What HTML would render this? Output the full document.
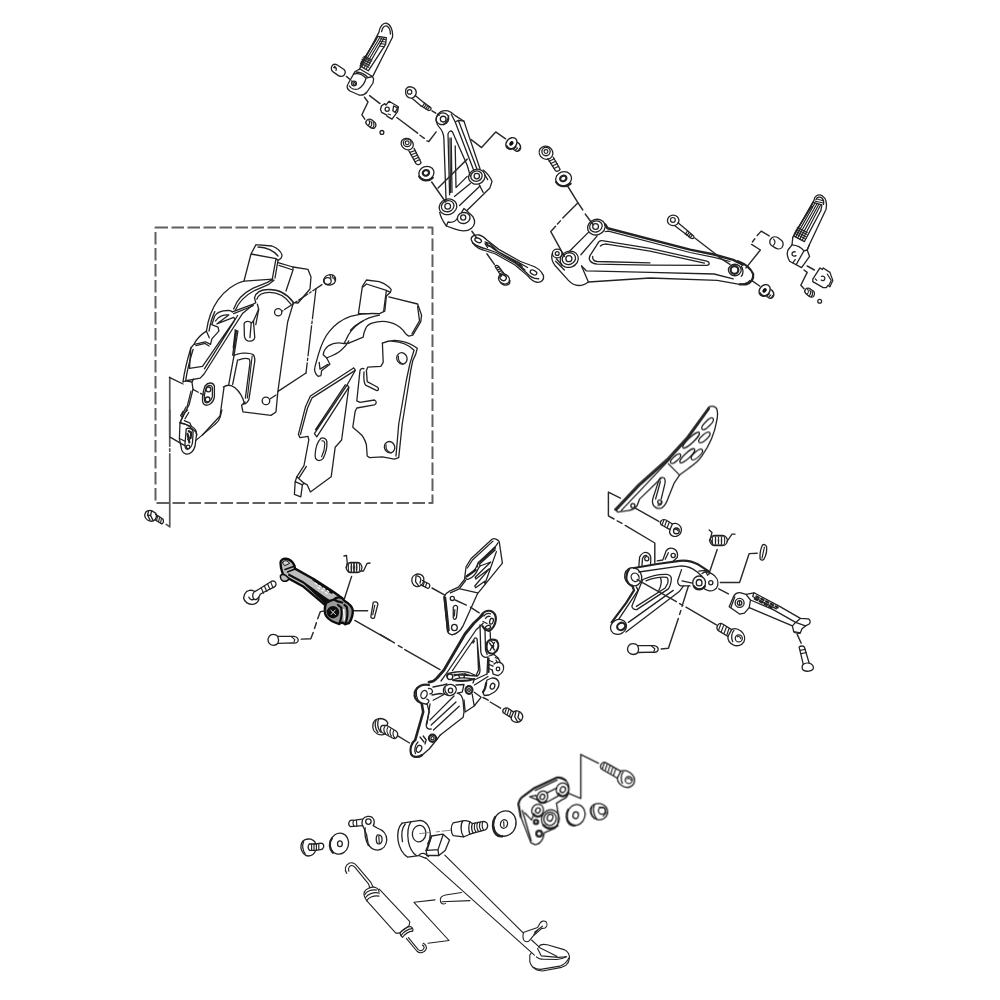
<!DOCTYPE html>
<html><head><meta charset="utf-8"><title>Parts diagram</title>
<style>
html,body{margin:0;padding:0;background:#fff;}
body{width:1000px;height:1000px;overflow:hidden;}
svg{display:block;}
.d{fill:none;stroke:#222;stroke-width:1.25;stroke-linecap:round;stroke-linejoin:round;}
.d .f{fill:#fff;}
.d .k{fill:#222;stroke:none;}
.d .t{stroke-width:0.8;}
.d .b{stroke-width:2;}
.d .g{stroke:#666;stroke-width:0.9;}
</style></head><body>
<svg width="1000" height="1000" viewBox="0 0 1000 1000">
<rect width="1000" height="1000" fill="#fff"/>
<g class="d" filter="url(#bl)">
<defs><filter id="bl" x="0" y="0" width="1000" height="1000" filterUnits="userSpaceOnUse"><feGaussianBlur stdDeviation="0.45"/></filter></defs>

<g transform="translate(330 10) scale(0.1)" stroke-width="13">
<path d="M300 590 L250 615 L180 740 C165 765 170 790 200 810 L290 850 C320 856 350 845 370 820 L430 730 L436 690 L425 665 L300 590"/>
<path d="M235 640 C280 630 330 650 360 682 L425 665 M360 682 C350 730 320 770 280 790 C250 800 210 790 195 760"/>
<path d="M260 620 C300 622 345 640 372 668"/>
<circle cx="240" cy="735" r="24"/>
<circle stroke-width="11.5" cx="243" cy="738" r="12"/>
</g>
<g transform="translate(320 10) scale(0.16)" stroke-width="8.125">
<!-- footpeg body -->
<path d="M245 372 L368 140 C372 105 395 78 415 82 C440 90 458 125 453 170 L332 410"/>
<path d="M385 135 C390 110 405 98 418 100 C432 108 440 125 440 150"/>
<!-- rubber pad -->
<path d="M362 165 L415 172 L410 215 L302 380 L250 350 Z"/>
<path stroke-width="7.1875" d="M375 170 L262 355 M388 172 L275 362 M400 176 L288 370 M350 185 L255 335"/>
<path stroke-width="7.1875" d="M258 320 L310 345 M254 332 L305 358 M262 308 L315 332 M268 298 L320 322 M275 290 L325 312"/>
<path stroke-width="7.1875" d="M380 180 L412 186 M378 195 L410 200 M376 210 L408 214 M372 225 L402 230"/>
<!-- pin -->
<path d="M78 345 C90 335 105 340 115 348 L150 372 C160 382 158 398 150 408 C140 418 125 415 115 410 L80 385 C68 375 68 355 78 345 Z"/>
<path stroke-width="7.1875" d="M90 352 C100 358 105 368 100 378 M85 360 L100 362"/>
<path stroke="#2a2a2a" stroke-width="9.0625" stroke-dasharray="28,16" d="M165 415 L200 445"/>
<!-- leader -->
<path stroke="#2a2a2a" stroke-width="9.0625" d="M278 545 L300 575 L262 655 L280 682"/>
<path stroke="#2a2a2a" stroke-width="9.0625" d="M310 535 L375 585"/>
<!-- small plate -->
<path d="M385 598 L405 585 L412 595 L432 570 L490 605 L485 635 L450 682 L420 665 L415 655 L385 640 L378 620 Z"/>
<path d="M460 600 L485 612 L470 640 L455 630 Z"/>
<circle cx="420" cy="620" r="13"/>
<path stroke-width="7.1875" d="M425 650 L440 655"/>
<!-- long leader -->
<path stroke="#2a2a2a" stroke-width="9.0625" d="M480 672 L610 770 M625 783 L652 802 M668 818 L680 822 L726 762"/>
<!-- set screw -->
<path d="M292 690 C300 678 315 680 325 688 L345 705 C352 715 348 730 340 738 C330 742 320 738 312 732 L292 715 C285 708 285 698 292 690 Z"/>
<path stroke-width="7.1875" d="M305 688 C312 700 310 715 300 722 M318 695 C326 708 324 722 314 732 M332 702 C340 715 338 728 328 738"/>
<circle cx="387" cy="765" r="12"/>
<!-- bolt 1 socket head -->
<path d="M535 505 C535 485 555 475 575 482 C595 490 605 505 600 525 C595 545 575 555 555 548 C540 540 533 525 535 505 Z"/>
<circle stroke-width="7.1875" cx="560" cy="512" r="14"/>
<path d="M595 535 L650 580 M575 552 L632 600"/>
<path d="M650 580 L692 610 C698 620 692 628 680 628 L632 600"/>
<path stroke-width="7.1875" d="M655 582 L640 602 M665 590 L650 610 M675 598 L660 618 M685 605 L670 624"/>
<path stroke="#2a2a2a" stroke-width="9.0625" stroke-dasharray="28,14" d="M700 630 L745 658"/>
<!-- bolt 2 flanged -->
<ellipse cx="545" cy="838" rx="40" ry="34" transform="rotate(35 545 838)"/>
<circle cx="545" cy="830" r="24"/>
<circle stroke-width="7.1875" cx="545" cy="830" r="12"/>
<path d="M555 880 L600 960 C610 970 625 968 632 955 L588 865"/>
<path stroke-width="7.1875" d="M562 890 L595 878 M570 905 L603 892 M578 920 L610 906 M586 934 L618 920 M594 948 L625 934"/>
</g>
<g transform="translate(400 90) scale(0.16)" stroke-width="8.125">
<!-- top boss -->
<ellipse cx="265" cy="180" rx="40" ry="36" transform="rotate(-20 265 180)"/>
<circle cx="270" cy="182" r="18"/>
<path d="M228 172 C235 140 265 125 300 130 C320 135 335 150 345 160 L400 195 L412 232 L500 492"/>
<path d="M228 172 C222 195 230 215 245 232 C262 250 272 270 274 300 L288 690"/>
<path d="M305 160 C300 185 290 205 270 218"/>
<path d="M320 150 L345 200 L460 500 M345 200 L365 190 L400 195"/>
<path d="M365 190 L480 490"/>
<!-- inner cutout -->
<path d="M300 275 C305 258 318 250 328 262 L420 470 L440 540 M300 275 L310 655 M320 300 L325 640 M345 350 L350 610 L420 540"/>
<path stroke-width="7.1875" d="M312 300 L316 640"/>
<path stroke="#2a2a2a" stroke-width="9.0625" d="M420 432 L238 612 M198 575 L285 700"/>
<!-- right boss -->
<ellipse cx="480" cy="542" rx="52" ry="46" transform="rotate(-20 480 542)"/>
<ellipse cx="478" cy="538" rx="36" ry="32" transform="rotate(-20 478 538)"/>
<circle cx="480" cy="538" r="17"/>
<path d="M520 500 C545 520 565 545 575 572 L562 612 L420 752"/>
<path d="M495 592 L520 640 M530 530 L548 560"/>
<path d="M440 585 L340 665 M500 600 L372 722"/>
<!-- lower-left boss -->
<ellipse cx="300" cy="730" rx="56" ry="48" transform="rotate(-20 300 730)"/>
<ellipse cx="298" cy="726" rx="40" ry="34" transform="rotate(-20 298 726)"/>
<circle cx="298" cy="726" r="18"/>
<!-- bottom boss -->
<path d="M248 765 C255 800 275 830 290 850 L345 870 C380 882 420 885 445 865 C470 845 470 815 455 790 L420 758 L400 740 L385 765"/>
<path d="M290 850 L300 825 C320 830 345 825 360 800"/>
<ellipse cx="398" cy="800" rx="40" ry="34" transform="rotate(-15 398 800)"/>
<circle cx="395" cy="797" r="16"/>
<!-- leader right + nut -->
<path stroke="#2a2a2a" stroke-width="9.0625" d="M445 310 L510 360 L598 262 L660 305"/>
<!-- washer -->
<ellipse cx="165" cy="520" rx="48" ry="42" transform="rotate(-20 165 520)"/>
<ellipse stroke-width="13.75" cx="162" cy="518" rx="20" ry="17" transform="rotate(-20 162 518)"/>
<path stroke-width="13.75" d="M120 540 C135 568 178 575 205 548"/>
</g>
<g transform="translate(440 200) scale(0.125)" stroke-width="10.4">
<path stroke="#2a2a2a" stroke-width="11.6" d="M255 250 L292 302"/>
<path d="M250 318 C245 295 275 272 315 280 C335 285 355 300 375 320 L470 395 L640 490 L720 520 C770 535 810 565 828 605 C835 640 810 662 775 658 C750 655 725 635 700 605 L600 520 L440 430 L345 400 C300 390 258 350 250 318 Z"/>
<ellipse cx="305" cy="322" rx="28" ry="16" transform="rotate(25 305 322)"/>
<ellipse cx="748" cy="580" rx="28" ry="17" transform="rotate(25 748 580)"/>
<path d="M262 345 C300 375 340 385 380 395 L450 420 L610 510 L690 580 C715 610 750 632 790 630"/>
<path d="M360 335 L400 350 L460 410 L630 500 L700 540 M360 350 L380 380 M395 365 L440 400 L600 495 L680 560"/>
<path stroke-width="9.2" d="M365 345 L385 370 M375 345 L395 372 M620 500 L650 515 M630 515 L660 530"/>
<path stroke="#2a2a2a" stroke-width="11.6" d="M375 430 L435 515"/>
<!-- bolt -->
<path d="M440 530 C445 520 460 520 465 528 L520 600 M440 530 L490 610"/>
<path stroke-width="9.2" d="M448 545 L472 535 M458 560 L482 550 M468 575 L492 565 M478 590 L502 580"/>
<ellipse cx="512" cy="632" rx="46" ry="38" transform="rotate(30 512 632)"/>
<ellipse cx="505" cy="622" rx="26" ry="22" transform="rotate(30 505 622)"/>
<path d="M480 655 C490 680 530 692 555 670 L560 645"/>
</g>
<g transform="translate(530 130) scale(0.16)" stroke-width="8.125">
<!-- bolt -->
<ellipse cx="100" cy="142" rx="44" ry="40" transform="rotate(30 100 142)"/>
<circle cx="100" cy="135" r="26"/>
<circle stroke-width="7.1875" cx="100" cy="135" r="12"/>
<path d="M112 180 L160 255 C170 262 185 255 188 245 L145 170"/>
<path stroke-width="7.1875" d="M120 195 L152 180 M130 210 L162 195 M140 225 L172 210 M150 240 L180 226"/>
<!-- washer -->
<ellipse cx="210" cy="305" rx="50" ry="44" transform="rotate(-20 210 305)"/>
<ellipse stroke-width="13.75" cx="208" cy="303" rx="20" ry="17" transform="rotate(-20 208 303)"/>
<path stroke-width="13.75" d="M163 325 C180 355 228 360 254 335"/>
<!-- leaders -->
<path stroke="#2a2a2a" stroke-width="9.0625" d="M235 350 L300 455 L330 500 M345 525 L395 592"/>
<path stroke="#2a2a2a" stroke-width="9.0625" d="M300 455 L205 550 M190 568 L172 588 M160 602 L130 635 L215 790"/>
<!-- upper boss -->
<ellipse cx="415" cy="607" rx="56" ry="48" transform="rotate(-20 415 607)"/>
<ellipse cx="412" cy="603" rx="40" ry="34" transform="rotate(-20 412 603)"/>
<circle cx="410" cy="603" r="18"/>
<!-- lower boss -->
<ellipse cx="245" cy="808" rx="58" ry="50" transform="rotate(-20 245 808)"/>
<ellipse cx="243" cy="804" rx="42" ry="36" transform="rotate(-20 243 804)"/>
<circle cx="243" cy="804" r="19"/>
<ellipse cx="170" cy="772" rx="30" ry="27"/>
<circle cx="170" cy="772" r="12"/>
<path d="M365 640 L250 755 M420 662 L318 780"/>
<!-- outline -->
<path d="M138 775 C132 800 140 825 155 845 L240 940 C260 962 285 972 305 972 C330 972 350 962 365 950 L322 850"/>
<path d="M160 820 L215 875 M165 805 L200 845"/>
<path stroke-width="15" d="M470 590 L485 614 L1000 748 L1150 778 L1270 812 L1330 842"/>
<path stroke-width="7.1875" d="M468 636 L490 632 L1000 766 L1150 796 L1250 822"/>
<!-- cutout -->
<path d="M450 692 L750 740 L1105 820 C1125 825 1125 846 1105 846 L750 845 L420 838 C380 835 362 812 375 785 L422 712 C428 698 438 690 450 692 Z"/>
<path d="M470 712 L750 757 L1090 832 M440 725 C450 715 465 712 478 714 M392 790 C388 805 398 820 420 822 L750 830"/>
<!-- lower lines -->
<path d="M322 850 L352 880 L750 890 L1150 900 L1270 930"/>
<path d="M365 950 L750 925 L1170 940 L1310 965 C1340 965 1360 955 1375 940"/>
<!-- end boss -->
<ellipse cx="1280" cy="875" rx="40" ry="36"/>
<circle cx="1278" cy="875" r="24" stroke-width="13.75"/>
<path stroke-width="13.75" d="M1300 820 C1340 835 1380 865 1395 900 C1398 930 1380 955 1350 965 L1310 965"/>
<path d="M1320 850 C1335 870 1335 900 1320 915"/>
<!-- socket bolt -->
<ellipse cx="895" cy="565" rx="36" ry="33"/>
<circle stroke-width="7.1875" cx="893" cy="562" r="15"/>
<path d="M925 580 L985 630 L1022 662 C1030 672 1022 680 1010 678 L905 598"/>
<path stroke-width="7.1875" d="M985 630 L970 652 M995 640 L980 660 M1005 648 L990 668 M1015 656 L1000 675"/>
<path stroke="#2a2a2a" stroke-width="9.0625" d="M1030 675 L1160 775 M1180 795 L1250 840"/>
<!-- leader to pin -->
<path stroke="#2a2a2a" stroke-width="9.0625" d="M1350 862 L1440 750 L1385 715 M1390 700 L1405 680 M1420 660 L1445 632 L1495 662"/>
<!-- nut -->
<path stroke="#2a2a2a" stroke-width="9.0625" d="M1385 940 L1435 975"/>
</g>
<g transform="translate(740 170) scale(0.16)" stroke-width="8.125">
<path d="M330 420 L462 190 C465 160 490 148 515 162 C535 175 545 205 538 245 L432 470 L420 500"/>
<path d="M475 185 C480 168 498 165 512 175 C522 185 525 200 522 215"/>
<path d="M458 202 L512 218 L505 255 L402 448 L335 412 Z"/>
<path stroke-width="7.1875" d="M468 208 L348 418 M480 212 L360 425 M492 216 L374 432 M502 222 L388 440 M450 225 L340 400"/>
<path stroke-width="7.1875" d="M340 395 L405 428 M346 382 L410 415 M352 370 L416 402 M358 358 L420 390"/>
<path stroke-width="7.1875" d="M470 195 L515 205 M478 180 L518 192"/>
<!-- base -->
<path d="M330 420 L325 468 L300 500 C292 520 295 545 310 570 L385 610 L435 540 L420 500 L432 470"/>
<path d="M325 468 C350 470 380 480 400 505 L420 500 M400 505 L352 590 M330 580 L345 560"/>
<path d="M345 512 C335 508 325 515 325 525 C325 538 340 542 350 535"/>
<!-- pin -->
<path d="M195 428 C205 415 225 415 240 425 L262 442 C272 452 272 472 262 485 C252 495 232 495 218 485 L195 470 C183 460 183 440 195 428 Z"/>
<path stroke-width="7.1875" d="M210 432 C220 442 220 458 210 470"/>
<!-- leaders -->
<path stroke="#2a2a2a" stroke-width="9.0625" d="M420 600 L465 625"/>
<path stroke="#2a2a2a" stroke-width="9.0625" d="M400 625 L420 640 L380 720 L400 742"/>
<!-- plate -->
<path d="M455 682 L500 612 L515 622 L520 612 L562 640 L580 690 L562 730 L548 722 L540 735 L520 735 L455 698 Z"/>
<path d="M510 665 C520 660 532 668 530 680 C528 692 515 695 508 688"/>
<path stroke-width="7.1875" d="M545 650 L570 690 L555 722 M470 680 L480 690"/>
<!-- set screw -->
<path d="M410 745 C418 735 432 737 442 745 L462 760 C468 770 465 785 457 792 C447 797 437 793 429 787 L410 770 C403 763 403 753 410 745 Z"/>
<path stroke-width="7.1875" d="M422 743 C430 755 428 770 418 777 M436 750 C444 763 442 777 432 787 M450 758 C456 770 454 783 446 792"/>
<circle cx="498" cy="820" r="12"/>
</g>
<g transform="translate(0 0) scale(1)" stroke-width="1.3">
<rect x="155.5" y="227.5" width="277" height="275.5" stroke="#606060" stroke-width="2" stroke-linecap="butt" stroke-dasharray="12.5,3.5"/>
</g>
<g transform="translate(150 235) scale(0.2)" stroke-width="6.5">
<!-- tube -->
<path d="M530 48 L610 55 C635 65 655 85 660 100 C660 112 650 122 640 127 L630 118 L505 95 L530 48 M505 95 L470 230 M630 118 L610 228 M640 127 L625 215"/>
<path d="M540 60 C580 62 620 80 640 105"/>
<!-- back plate -->
<path d="M640 138 L715 160 L790 172 L805 210 L800 270 L740 340 L715 338"/>
<path d="M645 152 L715 175 L680 280 M715 160 L715 175"/>
<path stroke-dasharray="150,12,12,12" d="M830 270 L800 520 L780 690"/>
<path d="M780 690 L640 782"/>
<!-- lower-left -->
<path stroke="#555" stroke-width="8.5" d="M98.75 712 L98.75 1000"/>
<path d="M97 712 L165 745 M210 737 L215 772 L195 850 L165 905"/>
<path d="M370 762 L350 905 L262 1000"/>
<path stroke-dasharray="30,12" d="M215 772 L268 800"/>
<path d="M275 755 C290 735 315 735 322 755 L322 810 C315 845 285 860 268 845 C258 830 262 790 275 755 Z"/>
<path d="M282 762 C292 748 308 748 312 762 L312 808 C305 835 285 845 275 835 C270 822 272 790 282 762 Z"/>
<circle cx="292" cy="772" r="12"/>
<circle cx="288" cy="822" r="12"/>
<path d="M165 905 L150 940 L175 945 L200 960 L230 985 L235 1000 M180 860 L160 900"/>
<path stroke-width="5.75" d="M205 780 L185 860"/>
<!-- collar -->
<path d="M872 215 C880 200 900 195 915 200 C930 208 932 225 922 240 C910 252 890 255 878 245 C868 238 866 225 872 215 Z"/>
<ellipse cx="888" cy="230" rx="18" ry="17"/>
<path stroke-width="5.75" d="M900 200 L905 215 M912 202 L916 218 M922 210 L924 226"/>
<path stroke-dasharray="55,10,10,10" d="M860 248 L662 380"/>
<path stroke-dasharray="40,10" d="M630 800 L600 820"/>
</g>
<g transform="translate(170 270) scale(0.13)" stroke-width="9.99999">
<!-- arch outer -->
<path d="M100 860 C108 800 130 700 160 600 L185 570 C200 540 230 500 280 470 C290 400 320 300 370 230 C420 160 500 100 570 85 L790 70"/>
<path d="M120 855 C128 800 150 700 178 610 M300 470 C310 410 330 350 345 320"/>
<!-- inner arch band -->
<path d="M490 300 C510 240 560 180 640 140 L750 95 L790 70 M502 312 C525 255 570 200 650 158 L760 110 L800 78"/>
<!-- front plate top (double) -->
<path d="M650 215 C660 170 700 150 760 150 C830 150 900 180 950 250"/>
<path d="M668 225 C680 190 710 172 765 172 C825 172 885 200 930 262"/>
<path d="M650 215 L660 252 L640 262 L480 322 M490 335 L640 275"/>
<!-- steps -->
<path d="M340 360 C360 320 420 310 462 312 L480 322 M350 392 C370 352 420 342 452 346 L360 415 L490 365 L500 380"/>
<path d="M320 420 L370 440 L376 470 L322 530 L312 572 L272 552 L188 572 M280 470 L302 522 M322 420 L340 365"/>
<path d="M200 582 L270 565 L300 585"/>
<!-- long diagonal bands -->
<path d="M640 268 L560 332 L482 452 L262 800 L232 832 L122 852"/>
<path d="M500 380 L250 742 L150 757 M160 600 L150 757 M520 350 L490 400 L265 760"/>
<!-- front plate left -->
<path d="M672 262 L682 302 L642 392 L652 520 C645 545 620 550 598 545 C580 538 572 520 572 500 L570 412 C578 395 598 392 612 398 L628 408 L640 392"/>
<path d="M625 405 L615 520 M682 302 L660 420"/>
<path d="M950 250 L905 400 L862 700 L830 934 L815 1092 L777 1118 L561 1091 L551 1041 L577 1015"/>
<circle cx="832" cy="325" r="28"/>
<circle cx="738" cy="1007" r="29"/>
<!-- left edge lower -->
<path d="M500 460 L522 470 L492 660 L452 880 M510 468 L482 655"/>
<path stroke-width="16.9231" d="M505 470 L490 600"/>
<!-- slot 2 -->
<path d="M492 660 C520 640 600 630 640 650 C656 670 656 700 646 740 L608 992 C600 1015 585 1028 566 1031"/>
<path d="M530 692 C555 680 590 678 610 685 C618 700 616 720 612 740 L580 985 M520 692 L482 880"/>
<path stroke-width="8.84614" d="M632 660 L595 985"/>
<!-- arc at bottom -->
<path d="M410 900 C440 880 470 882 500 905 C535 935 560 975 572 1026"/>
<!-- bottom left -->
<path d="M100 860 L122 852 L170 862 L180 840"/>
</g>
<g transform="translate(280 260) scale(0.16)" stroke-width="8.125">
<!-- tube -->
<path d="M540 125 L620 135 C650 145 680 165 695 185 L690 202 L665 225 L655 320 L622 335 L490 335 L515 165 Z"/>
<path d="M540 150 L665 190 L690 202 M665 190 L648 318 M520 168 L540 150"/>
<!-- back plate -->
<path d="M680 230 L860 275 L885 345 L880 385 L830 470 L805 476 C790 470 780 455 770 440 C730 390 650 370 575 395 C555 402 540 412 535 430 L525 455 L520 482 L430 520"/>
<path d="M860 290 L872 380 L825 462"/>
<!-- arch -->
<path d="M620 335 C560 330 500 335 440 352 C390 370 345 400 310 445 C280 480 255 540 240 590 L218 670 C212 690 222 715 238 727 L256 722 L260 692 L312 652 L292 612"/>
<path d="M622 345 C580 352 540 365 500 392 C460 420 430 455 412 500 L400 522 C370 515 330 518 305 535 C285 550 272 570 270 592 L292 612 C320 600 350 590 380 565 C400 548 420 530 430 505"/>
<path d="M400 522 L430 520 M245 640 L250 682 L300 652 M440 440 C460 415 490 395 520 380"/>
<!-- front plate -->
<path d="M640 520 C700 490 790 500 858 552 L848 590 L830 628 C820 670 812 720 808 750 L764 1025 L742 1235 L715 1245 L640 1230 L560 1235 L545 1225 L540 1155 C530 1120 515 1095 500 1085 L455 1045 L470 945 L480 925 L590 905 C605 900 605 882 590 875 L500 890 L480 880 L500 690 C505 680 515 675 525 680"/>
<path d="M640 520 L645 640 L630 665 L548 670 L540 690 L545 760 L610 795 C620 805 615 820 602 815 L535 782 C525 770 522 740 525 700"/>
<path d="M700 507 C760 512 808 532 838 564 L812 648 L790 750 L742 1025 L725 1225"/>
<ellipse cx="762" cy="615" rx="32" ry="36" transform="rotate(-20 762 615)"/>
<path stroke-width="7.1875" d="M740 600 C738 625 750 645 770 650"/>
<ellipse cx="685" cy="1170" rx="32" ry="36" transform="rotate(-20 685 1170)"/>
<path stroke-width="7.1875" d="M663 1155 C660 1180 672 1200 695 1205"/>
<!-- lower triangular plate -->
<path d="M460 675 L190 850 L160 915 L115 1090 L125 1110 L175 1103 L180 1125 L150 1285 L105 1355 L95 1385 L90 1465 L130 1480 L140 1405 L150 1395 L170 1405 L190 1450 L320 1355 L345 1170 L385 1125 L430 795 L420 780"/>
<path d="M470 690 L200 862 L172 925 L128 1090 M95 1385 L140 1405 M105 1355 L150 1395 M165 1290 L120 1360"/>
<path d="M460 675 C470 680 472 690 465 700 L420 780 L215 1085 L230 1105 L430 795 M408 780 L222 1060"/>
<path d="M255 1115 C270 1108 290 1115 293 1135 C295 1165 285 1210 270 1240 C255 1258 232 1258 222 1240 C215 1215 225 1160 240 1135 Z"/>
<path stroke-width="7.1875" d="M262 1130 C272 1128 280 1135 280 1150 C280 1175 270 1210 260 1230"/>
</g>
<g transform="translate(130 410) scale(0.125)" stroke-width="10.4">
<path stroke="#555" stroke-width="13.6" d="M318 0 L318 290 M318 310 L318 330 M318 350 L318 935 L290 915"/>
<path d="M318 215 L420 275"/>
<path d="M735 0 L722 55 C715 80 700 100 680 115 L525 245"/>
<!-- clip -->
<path d="M400 100 L490 130 C520 145 535 165 532 200 L520 290 C510 330 480 355 450 352 C425 348 412 325 410 300 L395 230 Z"/>
<path d="M400 100 L420 60 L440 20 L460 0 M420 60 L405 45 L425 10 M440 70 L470 20 M435 85 L480 105 L490 130"/>
<path d="M450 150 C470 140 500 150 505 175 L500 260 C495 290 480 310 460 315 C445 312 438 295 440 270 Z"/>
<path stroke-width="17.6" d="M470 170 L490 180 L485 225 L465 235 M460 190 L475 260"/>
<circle cx="465" cy="295" r="14"/>
<path d="M420 275 L440 285 M400 230 L440 250"/>
<!-- bolt -->
<path d="M120 830 C125 810 150 798 172 805 L205 825 C215 840 212 862 200 878 C185 892 160 892 140 880 C122 868 115 848 120 830 Z"/>
<path d="M150 805 L140 840 L160 880 M172 808 L165 845 L185 885 M140 840 L165 845"/>
<path d="M205 835 L262 872 C272 885 268 905 255 912 L200 878"/>
<path stroke-width="9.2" d="M222 845 L212 885 M238 855 L228 895 M252 866 L244 905"/>
</g>
<g transform="translate(270 545) scale(0.1)" stroke-width="13">
<g stroke="#111" stroke-width="24">
<path fill="#bdbdbd" d="M105 180 C105 150 130 135 160 137 C195 142 230 170 245 208 L250 236 L440 342 L640 472 L722 532 L600 560 L552 602 L328 412 L172 328 L128 290 C115 255 105 215 105 180 Z"/>
<path fill="#d8d8d8" stroke-width="10" d="M128 172 C135 155 160 152 180 165 L195 185 L150 205 C135 198 125 188 128 172 Z"/>
<path fill="none" stroke-width="16" d="M150 245 L235 215 M175 270 L250 240"/>
<path fill="#bdbdbd" stroke-width="16" d="M105 305 C120 290 150 295 175 320 L190 338 C180 355 160 365 135 362 C115 355 100 330 105 305 Z"/>
<path fill="#111" stroke="none" d="M180 305 L335 388 L552 590 L600 550 L560 525 L330 360 L185 282 Z"/>
<path fill="#111" stroke="none" d="M420 350 L440 335 L640 465 L620 490 L600 480 Z"/>
<path fill="#999" d="M560 580 C548 610 545 650 552 690 C565 730 600 755 650 775 L690 790 L722 775 L752 792 L790 780 C815 745 830 700 828 650 C820 615 790 585 750 562 L722 532 C695 520 660 525 640 545 L600 560 Z"/>
<path fill="none" stroke-width="22" d="M690 790 C715 740 722 680 712 625 L680 600 M752 792 C775 740 780 680 768 620 L745 600 M640 545 C660 560 690 570 722 575"/>
<path fill="#fff" stroke="none" d="M728 640 L745 640 L750 750 L738 760 Z"/>
<circle fill="#111" cx="630" cy="672" r="50"/>
</g>
<path stroke="#eee" stroke-width="9" d="M608 652 L655 695 M652 650 L612 695"/>
<path stroke="#fff" stroke-width="11" d="M452 382 L470 392 M492 405 L510 416 M532 430 L550 442 M572 455 L588 466 M478 425 L494 435 M518 450 L534 460 M556 475 L572 485"/>
</g>
<g transform="translate(230 530) scale(0.16)" stroke-width="8.125">
<path stroke="#2a2a2a" stroke-width="9.0625" d="M760 290 L715 430"/>
<!-- cotter -->
<path d="M895 452 C905 445 920 450 925 462 L902 550 C895 555 885 552 880 545 Z"/>
<path stroke-width="7.1875" d="M905 470 L892 530"/>
<path stroke="#2a2a2a" stroke-width="9.0625" d="M775 505 L860 505 M780 565 L1000 690"/>
<!-- bolt left -->
<path d="M92 400 C105 375 135 370 155 385 L180 370 L260 320 C275 315 288 325 288 340 C285 352 275 360 265 362 L190 400 L180 420 C185 440 170 460 145 465 C115 468 90 450 85 425 Z"/>
<path d="M150 388 C140 400 138 420 150 432 C160 438 172 432 180 420 M118 420 C125 435 140 440 150 432"/>
<path stroke-width="7.1875" d="M195 362 L210 395 M215 350 L230 384 M235 338 L250 372 M255 326 L268 360"/>
<!-- pin -->
<path d="M245 665 C255 648 285 648 298 665 L400 665 C420 668 430 680 425 695 C420 705 408 708 395 706 L300 708 C285 725 255 725 245 708 C236 695 236 678 245 665 Z"/>
<path d="M298 665 C305 680 305 695 300 708"/>
<path stroke-width="7.1875" d="M385 668 L405 685 L400 700"/>
<path stroke="#2a2a2a" stroke-width="9.0625" d="M445 682 L505 680 L520 640 M528 615 L540 580 M548 555 L565 510 L600 505"/>
</g>
<g transform="translate(380 520) scale(0.16)" stroke-width="8.125">
<path d="M700 120 C715 112 735 120 745 135 L765 270 L610 460 L520 660 C505 690 480 712 450 718 C435 715 425 708 422 695 L400 480 C410 462 420 452 435 445 L490 420 L528 372 L538 292 L570 240 Z"/>
<path d="M546 300 L578 250 L706 132 M410 484 L432 690 M440 456 L495 430 L535 378"/>
<path stroke-width="13.75" d="M403 482 L425 694"/>

<path d="M500 430 L610 456"/>
<!-- holes -->
<circle cx="452" cy="490" r="13"/>
<path d="M458 545 C465 530 480 530 485 545 L478 610 C472 625 462 625 458 612 Z"/>
<path stroke-width="7.1875" d="M468 560 L465 600"/>
<ellipse cx="465" cy="672" rx="18" ry="20"/>
<!-- bolt -->
<path d="M200 365 C205 345 230 332 252 340 C270 348 278 365 272 385 C268 405 245 420 225 415 C205 408 195 385 200 365 Z"/>
<path d="M225 350 C240 348 255 358 255 372 L250 395 M225 350 L222 385 L240 410"/>
<path d="M265 378 L308 400 C315 410 310 425 300 428 L255 405"/>
<path stroke-width="7.1875" d="M278 385 L270 412 M292 392 L284 420"/>
<path stroke="#2a2a2a" stroke-width="9.0625" d="M325 425 L405 470 M470 500 L540 532 M565 545 L620 580"/>
<path stroke="#2a2a2a" stroke-width="9.0625" d="M0 715 L90 768 M115 785 L138 798 M155 810 L375 935"/>
</g>
<g transform="translate(440 530) scale(0.08)" stroke-width="16.25">
<path d="M725 160 C700 210 620 290 500 390 L470 430 C450 480 400 540 340 570 C310 590 320 622 350 616 C400 600 450 550 480 480 L500 450"/>
<path stroke-width="30" d="M505 392 L685 222 M340 575 L445 500"/>
<path d="M690 250 L495 425 L500 450 L635 400 L440 590 L448 612 L615 485 L435 700 L445 722 L560 640 L562 672 L705 270"/>
<path d="M480 400 C470 420 465 440 470 460"/>
</g>
<g transform="translate(440 600) scale(0.1)" stroke-width="13">
<!-- dash from heel guard -->
<!-- thick upper arm edge -->
<path stroke-width="28" d="M425 150 L340 230 L250 340 L40 700 L-30 780 C-50 805 -80 818 -110 822"/>
<path d="M432 232 L360 300 L60 740 L10 810"/>
<!-- top boss -->
<path stroke-width="22" d="M405 165 C420 125 465 100 510 110 C545 125 562 160 558 200 C552 250 525 290 490 310 L450 295 L425 262"/>
<path d="M440 160 C455 135 485 128 505 138 M455 185 C465 165 485 160 500 165 M430 215 L470 235"/>
<ellipse cx="515" cy="212" rx="18" ry="30" transform="rotate(15 515 212)"/>
<ellipse cx="480" cy="272" rx="26" ry="17" transform="rotate(-20 480 272)"/>
<!-- right arm -->
<path d="M400 250 L408 520 C412 555 440 578 470 572 M450 300 L455 500 L472 545 M502 318 L505 400"/>
<!-- inner cutout -->
<path d="M345 385 C352 375 365 375 370 388 L400 700 C400 730 390 750 372 760 L140 745 M345 385 L125 705 M372 400 L385 700 L365 745 M330 430 L345 410"/>
<!-- boss 2 -->
<path stroke-width="22" d="M470 430 C482 395 530 385 568 408 C590 438 585 482 565 510 L530 540 L492 530 C468 510 460 470 470 430 Z"/>
<path d="M495 430 L545 500 M545 425 L500 505 M510 410 C530 420 540 445 535 470"/>
<path d="M490 560 L540 545 L582 580 L602 622 M480 600 L530 620 M480 640 L530 662 M480 680 L522 700 M478 570 L470 740"/>
<path stroke-width="22" d="M485 585 L485 720"/>
<!-- boss 3 -->
<path d="M540 640 C570 610 620 618 635 660 C642 700 620 740 580 756 L532 742 L522 700"/>
<circle cx="580" cy="690" r="18"/>
<path stroke-width="11.5" d="M560 600 L575 630 M552 575 L585 590"/>
<!-- boss 4 -->
<path d="M470 800 L520 780 C550 778 580 795 590 830 C592 865 575 895 545 920 L490 950 L445 955 C428 940 430 915 450 885 L462 830 Z"/>
<ellipse cx="525" cy="862" rx="22" ry="30" transform="rotate(20 525 862)"/>
<path stroke-width="22" d="M462 830 L450 885 L430 920"/>
<path d="M470 740 L340 800 L330 830 M480 765 L345 850"/>
<!-- pedal pivot -->
<path d="M70 770 C60 750 75 730 100 730 L160 720 C200 715 250 715 290 725 L370 760"/>
<circle cx="100" cy="768" r="28"/>
<path d="M140 760 C180 740 240 735 290 750 M150 790 C200 775 260 775 320 790 M180 745 L200 780 M250 735 L240 775"/>
<path stroke-width="22" d="M130 800 C200 815 280 810 340 790"/>
</g>
<g transform="translate(400 660) scale(0.1)" stroke-width="13">
<!-- left boss -->
<path stroke-width="22" d="M290 250 C230 235 170 262 148 320 C138 370 160 410 210 430"/>
<path d="M170 280 C155 320 160 380 195 420 M210 430 L262 442"/>
<ellipse cx="240" cy="345" rx="30" ry="42" transform="rotate(20 240 345)"/>
<path d="M285 285 C305 280 322 295 325 315 C325 330 312 340 298 338 M268 392 C285 395 295 410 285 425 L262 442"/>
<path d="M330 270 L430 250 L470 240 M320 350 L400 335 L440 342"/>
<!-- mid boss -->
<ellipse cx="498" cy="300" rx="66" ry="55" transform="rotate(-15 498 300)"/>
<ellipse cx="505" cy="305" rx="22" ry="24"/>
<path stroke-width="11.5" d="M450 270 C445 300 455 330 480 345"/>
<!-- center block -->
<path d="M560 250 L640 245 L622 322 L572 332 M572 332 C600 335 625 360 632 420 L640 520 L632 572 L400 752"/>
<path d="M640 400 L652 520 L742 460 L722 342 M742 322 L812 372 L742 460"/>
<!-- right small boss -->
<ellipse stroke-width="22" cx="690" cy="300" rx="34" ry="38"/>
<circle cx="690" cy="300" r="14"/>
<!-- lower arm -->
<path stroke-width="26" d="M218 440 L232 520 L152 800"/>
<path d="M272 442 L292 520 L262 645 C262 670 272 688 292 692 L312 690"/>
<path d="M312 650 L560 420 M335 700 L592 462 M332 402 L440 345 M300 440 L270 640 M540 360 C520 380 400 500 300 600"/>
<!-- bottom boss -->
<path stroke-width="22" d="M152 800 C112 830 95 890 110 940 C130 975 180 980 222 950"/>
<path d="M222 950 L292 890 L372 790 M180 820 C150 850 140 900 155 935"/>
<ellipse cx="190" cy="888" rx="25" ry="36" transform="rotate(25 190 888)"/>
<circle stroke-width="22" cx="325" cy="782" r="36"/>
<circle cx="325" cy="782" r="16"/>
<path d="M232 760 L262 800 L250 840 M200 770 L240 820"/>
<path d="M372 790 L402 752"/>
<!-- leaders -->
<path stroke="#2a2a2a" stroke-width="14.5" d="M830 375 L882 402 M902 420 L1005 482"/>
</g>
<g transform="translate(380 600) scale(0.16)" stroke-width="8.125">
<path d="M775 680 C785 672 800 675 808 682 L835 700 L820 735 L770 705 C765 695 768 686 775 680 Z"/>
<path stroke-width="7.1875" d="M790 678 L780 708 M805 685 L795 716 M820 692 L810 725"/>
<path d="M835 700 C845 690 865 692 878 702 C892 715 895 735 885 750 C872 765 850 768 832 758 C822 750 818 742 820 735"/>
<path d="M850 695 L842 730 L860 762 M870 700 L862 735 L880 755"/>
</g>
<g transform="translate(340 680) scale(0.1)" stroke-width="13">
<path d="M330 440 C335 410 365 385 405 385 C440 388 468 405 478 430 L470 455 L560 510 C578 525 580 550 570 570 C558 585 540 588 525 580 L450 540 C430 550 400 550 375 540 C340 520 322 480 330 440 Z"/>
<path d="M362 400 C345 430 350 490 380 525 M385 395 C370 425 375 485 405 520"/>
<path d="M420 455 C400 470 400 505 420 525 L450 540 M420 455 L470 455"/>
<path stroke-width="11.5" d="M448 465 C435 485 438 515 455 535 M478 475 C465 495 468 528 485 548 M508 490 C495 510 498 545 515 562 M538 505 C525 525 528 558 545 575"/>
<path stroke="#2a2a2a" stroke-width="14.5" d="M582 562 L695 630"/>
</g>
<g transform="translate(590 395) scale(0.16)" stroke-width="8.125">
<path d="M155 715 L300 560 L480 400 L600 270 L740 78 C755 65 780 68 792 85 C800 110 798 140 790 170 C780 230 755 300 700 380 C680 410 650 435 620 455 L560 500 L525 552 L490 640 C480 670 465 695 450 705 C435 712 415 710 400 695 C388 680 388 660 395 640 L432 528 C438 515 455 512 465 520 C472 530 470 545 468 555 L445 650"/>
<path d="M445 520 L310 650 L295 690 C280 710 260 720 240 722 L175 732 L155 715"/>
<path stroke-width="13.75" d="M165 716 L308 565 L485 408 L605 278 L744 84"/>
<path d="M195 722 L330 580 L500 400"/>
<path d="M490 430 L560 500"/>
<path d="M410 650 L440 540 M425 690 C440 690 450 680 450 665"/>
<circle cx="435" cy="668" r="12"/>
<circle cx="268" cy="692" r="13"/>
<!-- ovals -->
<ellipse cx="735" cy="180" rx="48" ry="17" transform="rotate(-45 735 180)"/>
<ellipse cx="715" cy="265" rx="45" ry="17" transform="rotate(-42 715 265)"/>
<ellipse cx="632" cy="282" rx="70" ry="17" transform="rotate(-43 632 282)"/>
<ellipse cx="668" cy="372" rx="45" ry="17" transform="rotate(-42 668 372)"/>
<ellipse cx="608" cy="380" rx="62" ry="17" transform="rotate(-43 608 380)"/>
<ellipse cx="535" cy="398" rx="40" ry="15" transform="rotate(-42 535 398)"/>
<!-- leader -->
<path stroke="#2a2a2a" stroke-width="9.0625" d="M190 645 L115 607 L115 755 L150 775 M170 787 L200 802 M220 815 L405 925 L405 1050"/>
<path stroke="#2a2a2a" stroke-width="9.0625" d="M280 705 L430 790"/>
</g>
<g transform="translate(590 520) scale(0.16)" stroke-width="8.125">
<!-- bolt top -->
<path d="M445 5 C452 -5 468 -5 478 2 L515 25 L500 60 L445 30 C438 22 438 12 445 5 Z"/>
<path stroke-width="7.1875" d="M462 0 L450 32 M478 8 L466 40 M495 15 L482 50"/>
<path d="M515 25 C525 18 545 20 558 32 C572 45 575 65 565 85 C552 102 530 108 512 98 C500 90 495 75 500 60"/>
<circle cx="540" cy="68" r="18"/>
<path stroke-width="7.1875" d="M530 60 C535 55 548 58 550 68"/>
<path stroke="#2a2a2a" stroke-width="9.0625" d="M795 185 L742 340"/>
<!-- bracket -->
<ellipse cx="270" cy="355" rx="52" ry="58" transform="rotate(-30 270 355)"/>
<ellipse cx="282" cy="358" rx="24" ry="27" transform="rotate(-30 282 358)"/>
<path stroke-width="13.75" d="M245 305 C235 320 225 345 228 370 C235 395 250 408 265 412"/>
<path stroke-width="13.75" d="M275 300 L420 275 L560 255 C600 250 640 258 680 280 L740 320"/>
<path d="M305 325 L560 288 C600 285 640 300 670 325 L700 352"/>
<path d="M305 292 L310 232 C320 210 340 198 360 205 C375 212 382 230 380 250 L378 280 M325 285 L328 240 C335 225 345 218 355 222"/>
<circle cx="355" cy="242" r="13"/>
<path d="M420 255 L455 250 L475 195 C485 178 505 172 525 180 C545 190 550 210 545 235 L520 258 M470 245 L490 205"/>
<circle cx="520" cy="222" r="13"/>
<path d="M330 372 C380 350 440 338 480 340 C500 342 512 355 508 375 C505 400 498 420 488 432 L292 560 C275 562 262 552 262 538 Z"/>
<path d="M350 380 C395 362 445 355 478 358 C488 365 490 378 486 395 L470 425 L290 540 M440 360 C450 380 445 410 430 440"/>
<path stroke-width="13.75" d="M265 412 L275 440 L225 520 L135 640"/>
<path d="M290 418 L300 440 L180 620"/>
<ellipse cx="178" cy="668" rx="52" ry="45" transform="rotate(-30 178 668)"/>
<ellipse cx="195" cy="665" rx="26" ry="22" transform="rotate(-30 195 665)" stroke-width="13.75"/>
<path d="M225 700 L560 445 L585 412 M240 640 L520 440"/>
<path d="M572 310 L548 380 C548 395 555 408 568 412 L625 412 M575 380 L640 395"/>
<ellipse cx="682" cy="392" rx="40" ry="42"/>
<path stroke-width="13.75" d="M650 415 C665 440 700 440 718 415"/>
<ellipse cx="682" cy="392" rx="18" ry="20"/>
<path d="M700 335 C715 320 740 322 760 335 C790 350 805 380 798 410 C790 435 765 448 740 442 L715 430"/>
<circle cx="755" cy="392" r="13"/>
<path d="M680 320 L720 315 L735 345"/>
<!-- leaders -->
<path stroke="#2a2a2a" stroke-width="9.0625" d="M295 372 L540 510 M560 522 L580 533 M600 545 L790 655"/>
<path stroke="#2a2a2a" stroke-width="9.0625" d="M615 412 L575 540 M568 565 L560 590 M552 615 L490 802 L445 806"/>
<path stroke="#2a2a2a" stroke-width="9.0625" d="M815 390 L935 390 L995 210 L1045 208"/>
<path stroke="#2a2a2a" stroke-width="9.0625" d="M805 430 L865 462"/>
<!-- pin -->
<path d="M242 785 C252 768 285 768 298 785 L400 785 C420 788 430 800 425 815 C420 825 408 828 395 826 L300 828 C285 845 255 845 242 828 C233 815 233 798 242 785 Z"/>
<path d="M298 785 C305 800 305 815 300 828"/>
<path stroke-width="7.1875" d="M385 788 L405 805 L400 820"/>
<!-- bolt bottom right -->
<path d="M800 655 C808 645 822 645 832 652 L885 685 L862 728 L800 690 C792 680 792 665 800 655 Z"/>
<path stroke-width="7.1875" d="M818 650 L804 688 M835 660 L820 698 M852 670 L838 708 M868 680 L855 720"/>
<path d="M885 685 C900 675 925 680 945 695 C965 712 972 740 962 762 C948 785 920 792 895 780 C872 768 860 748 862 728"/>
<path d="M900 690 C885 705 880 735 892 760"/>
<circle cx="930" cy="740" r="22"/>
<path stroke-width="7.1875" d="M920 730 C928 725 940 730 942 742"/>
</g>
<g transform="translate(690 520) scale(0.16)" stroke-width="8.125">
<!-- cotter -->
<path d="M452 158 C460 150 472 152 478 165 C482 185 475 220 462 245 C454 254 444 252 438 242 C436 215 442 180 452 158 Z"/>
<path stroke-width="7.1875" d="M465 170 L450 238"/>
<!-- footpeg -->
<path d="M245 542 L275 472 C285 458 300 452 318 455 L350 465 L400 455 L560 540 L690 615 L740 618 C752 625 755 640 745 650 L722 662 L700 680 L690 705 L648 698 L640 662 L370 548 L340 582 L310 588 Z"/>
<path d="M350 465 L378 500 L370 548 M378 500 L520 560 L660 640 L690 615 M660 640 L722 662 M640 662 L660 640"/>
<circle cx="310" cy="518" r="28"/>
<circle cx="310" cy="518" r="14"/>
<path stroke-width="7.1875" d="M310 505 L310 532"/>
<path d="M255 548 L280 480 M400 455 L392 478 L540 555"/>
<path stroke-width="13.75" d="M415 478 L430 486 M445 492 L460 500 M475 508 L490 516 M505 524 L520 532 M535 540 L548 547 M405 492 L420 500 M435 508 L450 516 M465 524 L480 532 M495 540 L510 548"/>
<path d="M648 698 C660 708 680 710 690 705"/>
<!-- pin bolt -->
<path stroke="#2a2a2a" stroke-width="9.0625" d="M670 715 L695 770"/>
<path d="M682 795 C690 785 708 785 715 795 L745 895 C765 900 775 915 770 930 C760 945 730 950 710 940 C698 930 698 912 708 902 Z"/>
<path stroke-width="7.1875" d="M690 815 L722 808 M695 835 L728 828 M708 902 C720 895 735 893 745 895"/>
</g>
<g transform="translate(480 740) scale(0.16)" stroke-width="8.125">
<path stroke="#2a2a2a" stroke-width="9.0625" d="M545 330 L630 365 L630 90 L740 145"/>
<!-- bolt -->
<path d="M760 148 C768 138 782 138 792 145 L880 195 L858 238 L760 182 C752 172 752 158 760 148 Z"/>
<path stroke-width="7.1875" d="M778 142 L765 180 M795 152 L782 190 M812 162 L800 200 M830 172 L818 210 M848 182 L835 220"/>
<path d="M880 195 C895 188 920 192 940 205 C962 222 972 248 962 272 C950 292 925 300 900 292 C875 282 860 262 858 238"/>
<path d="M895 200 C882 215 878 245 890 270"/>
<circle cx="930" cy="250" r="22"/>
<path stroke-width="7.1875" d="M920 242 C928 235 942 240 944 252"/>
<!-- bracket -->
<path d="M240 400 C245 375 258 358 275 348 L340 300 L480 235 C500 232 520 240 535 252 C555 270 562 295 552 335 C545 355 530 368 515 372 L478 395 L490 470 C492 510 485 540 468 552 L402 580 L395 610 C385 635 365 652 345 655 L318 642 L255 480 Z"/>
<path stroke-width="13.75" d="M255 480 L240 400 C245 375 258 358 275 348 L340 300 L480 235 C500 232 520 240 535 252"/>
<path d="M345 315 L482 250 M310 355 L360 375 L350 345 Z M280 455 L322 500 L335 470 M265 440 L320 630"/>
<ellipse cx="390" cy="355" rx="32" ry="38" transform="rotate(30 390 355)"/>
<path stroke-width="13.75" d="M362 372 C370 392 395 400 415 385 M490 335 C500 352 525 358 545 340 M335 462 C345 480 370 485 390 468 M395 530 C415 555 455 560 485 535"/>
<ellipse cx="390" cy="355" rx="14" ry="17" transform="rotate(30 390 355)"/>
<ellipse cx="515" cy="310" rx="38" ry="42" transform="rotate(30 515 310)"/>
<ellipse cx="518" cy="310" rx="16" ry="19" transform="rotate(30 518 310)"/>
<path d="M420 330 L480 300 M425 385 L488 350"/>
<ellipse cx="360" cy="440" rx="36" ry="40" transform="rotate(30 360 440)"/>
<ellipse cx="362" cy="440" rx="14" ry="17" transform="rotate(30 362 440)"/>
<ellipse cx="440" cy="495" rx="55" ry="60" transform="rotate(20 440 495)"/>
<ellipse cx="438" cy="492" rx="38" ry="42" transform="rotate(20 438 492)"/>
<ellipse cx="438" cy="485" rx="17" ry="22" transform="rotate(20 438 485)"/>
<circle stroke-width="13.75" cx="350" cy="512" r="13"/>
<circle stroke-width="13.75" cx="370" cy="585" r="18"/>
<!-- big washer -->
<ellipse cx="155" cy="522" rx="70" ry="80" transform="rotate(15 155 522)"/>
<ellipse cx="150" cy="525" rx="22" ry="27" transform="rotate(15 150 525)"/>
<path stroke-width="13.75" d="M95 480 C75 510 75 560 100 590 C110 600 125 605 140 602"/>
<path stroke-width="7.1875" d="M148 510 L150 540"/>
<!-- small washer -->
<ellipse cx="600" cy="468" rx="56" ry="66" transform="rotate(15 600 468)"/>
<ellipse cx="598" cy="470" rx="17" ry="21" transform="rotate(15 598 470)"/>
<path stroke-width="13.75" d="M552 435 C535 460 538 505 560 525 C570 532 580 535 590 534"/>
<!-- nut -->
<path d="M690 430 C695 405 725 392 755 398 C785 405 802 430 798 458 C792 485 765 502 735 498 C705 492 685 460 690 430 Z"/>
<path d="M700 415 C690 440 695 470 715 490 M715 402 C705 430 710 465 730 495"/>
<circle cx="762" cy="442" r="22"/>
<path stroke-width="7.1875" d="M745 420 L780 425 L790 455 L770 475"/>
</g>
<g transform="translate(290 780) scale(0.16)" stroke-width="8.125">
<!-- small bolt -->
<path d="M72 395 C80 375 105 365 130 370 C150 378 160 392 158 400 L195 395 C208 398 212 410 210 420 C206 430 198 435 190 435 L160 440 C155 460 135 475 112 475 C88 470 68 445 68 420 Z"/>
<path d="M85 385 C75 405 78 440 95 462"/>
<path d="M120 400 L158 400 M122 440 L160 440 M120 400 C112 412 112 428 122 440"/>
<path stroke-width="7.1875" d="M135 400 L135 440 M150 400 L150 440 M165 398 L165 438 M180 396 L180 436"/>
<!-- washer -->
<ellipse cx="308" cy="398" rx="58" ry="66" transform="rotate(15 308 398)"/>
<ellipse cx="312" cy="398" rx="15" ry="18"/>
<path stroke-width="13.75" d="M262 365 C242 390 245 430 268 455"/>
<!-- link arm -->
<path d="M455 245 C470 225 500 222 515 235 C530 250 528 270 520 285 L545 300 C580 312 605 340 605 375 C602 410 580 435 548 438 C520 438 498 420 488 395 L478 340 L462 300 C450 285 448 262 455 245 Z"/>
<circle cx="490" cy="260" r="17"/>
<path d="M545 345 C558 340 572 348 575 362 L575 380 C572 395 560 402 548 398 C538 390 535 360 545 345 Z"/>
<path stroke-width="7.1875" d="M555 350 L558 392"/>
<path d="M372 258 C378 250 390 250 398 252 L450 245 M372 258 C365 270 368 285 378 292 L455 285"/>
<path stroke-width="7.1875" d="M398 252 C392 265 395 282 402 290 M415 250 L418 288"/>
<path d="M470 300 C465 330 470 370 490 410"/>
</g>
<g transform="translate(390 780) scale(0.16)" stroke-width="8.125">
<path d="M75 270 L190 252 C225 258 250 290 252 335 C252 360 245 385 235 400"/>
<path d="M75 270 C55 290 45 330 50 375 C55 420 80 465 110 482 L180 472 L225 490"/>
<path d="M130 262 C112 290 108 340 115 385 C122 420 140 455 165 472"/>
<path d="M95 275 C75 300 70 345 78 385"/>
<ellipse cx="182" cy="335" rx="42" ry="52" transform="rotate(8 182 335)"/>
<!-- lug -->
<path d="M260 350 L330 338 L372 375 L345 440 L305 472 L232 472 L225 440 Z"/>
<path d="M260 350 L232 440 L300 435 L332 342 M300 435 L305 472 M232 440 L225 440"/>
<path d="M180 472 C190 455 210 455 225 465 L240 478"/>
<!-- dash-dot -->
<path stroke="#777" stroke-width="5.625" d="M185 335 L250 328 M290 324 L310 322 M325 320 L378 314"/>
<!-- pivot bolt -->
<path d="M395 268 C380 285 378 325 395 348 L460 355 C480 350 490 345 500 338 L520 332 L595 312 C610 305 615 285 605 268 C598 260 588 258 578 260 L515 272 L500 262 C485 255 470 252 455 255 Z"/>
<path d="M455 255 C440 275 440 330 460 355 M500 262 C490 280 490 320 500 338 M515 272 C508 290 510 315 520 332"/>
<path stroke-width="7.1875" d="M532 268 C525 285 528 312 538 327 M548 265 C541 282 544 308 554 322 M564 262 C557 279 560 303 570 318 M580 260 C574 276 576 298 585 314"/>
</g>
<g transform="translate(400 840) scale(0.16)" stroke-width="6.875">
<path d="M280 95 L770 580 M160 110 L840 720"/>
</g>
<g transform="translate(480 880) scale(0.12)" stroke-width="9.16663">
<path d="M365 435 L480 395 L500 360 C510 342 535 335 552 350 C562 365 560 388 542 400 L512 405 L440 470 L412 505 C400 515 380 515 368 505 C355 490 355 455 365 435 Z"/>
<path d="M455 435 L520 385 M448 455 L480 420"/>
<path d="M430 500 L490 555"/>
<path d="M490 555 C500 540 530 533 560 540 L700 580 C730 595 748 625 745 655 C742 680 730 700 715 712 L680 728 L520 758 L480 752 C450 740 425 715 415 682 L415 625 L430 605"/>
<path d="M480 570 L510 632 L650 645 L722 640 M490 560 L640 635"/>
<path d="M470 640 C485 655 505 660 530 660 L640 662 C670 660 700 652 720 640"/>
<path d="M440 725 C460 740 485 745 505 745 L665 718 C695 708 725 685 740 650"/>
</g>
<g transform="translate(330 860) scale(0.14)" stroke-width="7.85714">
<path d="M120 95 C100 70 108 35 140 22 C160 15 180 25 195 45 L292 160 L308 192"/>
<path d="M135 80 C128 65 135 45 150 40 C162 38 172 45 180 55 L275 170 L285 200"/>
<path d="M245 228 C255 205 290 190 320 195 M248 248 C258 222 300 208 332 215 M255 268 C268 245 310 228 342 235 M262 290 C275 268 315 250 350 258"/>
<path d="M245 228 C238 245 245 265 262 290 M320 195 C340 200 352 215 350 240"/>
<path d="M262 290 L470 522 L495 522 L565 470 L570 440 L352 208"/>
<path d="M500 522 C515 500 545 480 575 475 M508 538 C525 515 555 495 585 490 M518 552 C535 530 565 510 590 508"/>
<path d="M575 475 C590 485 595 500 590 508 M500 522 C502 535 508 545 518 552"/>
<path d="M545 560 L620 650 C640 670 670 665 685 640 C695 620 682 602 665 595"/>
<path d="M560 555 L630 640 C645 652 662 648 670 632 C675 622 670 612 660 608"/>
<!-- leader -->
<path d="M750 285 L600 302 L850 575 L700 595"/>
<!-- hook -->
<path d="M790 300 C780 270 800 255 825 250 L940 232 M790 300 C795 312 810 320 825 310 M800 298 L1000 290"/>
</g>
<g transform="translate(0 0) scale(1)" stroke-width="1.3">
<g transform="translate(511.4 143.4)">
<path d="M1.5 4.5 C2.5 8 6.5 9 8.5 6.5 C10 4 9 0.5 6 -1" stroke-width="1.5"/>
<path d="M4 6.8 L6.2 4.6 M6.5 7.6 L8.4 5" stroke-width="1.1"/>
<ellipse rx="6.3" ry="5" transform="rotate(-50)" fill="#fff" stroke-width="1.4"/>
<ellipse rx="2.6" ry="1.9" transform="rotate(-50)" fill="#111" stroke="none"/>
<path d="M-4.6 2.5 C-3 6 1.5 6.5 4.5 3.5" stroke-width="1.6"/>
</g>
<g transform="translate(764.6 290.4)">
<path d="M1.5 4.5 C2.5 8 6.5 9 8.5 6.5 C10 4 9 0.5 6 -1" stroke-width="1.5"/>
<path d="M4 6.8 L6.2 4.6 M6.5 7.6 L8.4 5" stroke-width="1.1"/>
<ellipse rx="6.3" ry="5" transform="rotate(-50)" fill="#fff" stroke-width="1.4"/>
<ellipse rx="2.6" ry="1.9" transform="rotate(-50)" fill="#111" stroke="none"/>
<path d="M-4.6 2.5 C-3 6 1.5 6.5 4.5 3.5" stroke-width="1.6"/>
</g>
</g>
<g transform="translate(0 0) scale(1)" stroke-width="1.3">
<g transform="translate(718.5 540.5)">
<path d="M-9.0 0 C-8.0 -3 -6.0 -5 -4.0 -5.2 L4.0 -5.2 C6.5 -5 8.5 -3 9.0 0 C8.5 3 6.5 5 4.0 5.2 L-4.0 5.2 C-6.0 5 -8.0 3 -9.0 0 Z" stroke-width="1.3"/>
<ellipse cx="-4.5" cy="0" rx="1.7" ry="4.8" stroke-width="1.1"/><ellipse cx="-1.5" cy="0" rx="1.7" ry="4.8" stroke-width="1.1"/><ellipse cx="1.5" cy="0" rx="1.7" ry="4.8" stroke-width="1.1"/><ellipse cx="4.5" cy="0" rx="1.7" ry="4.8" stroke-width="1.1"/>
<path d="M-9.3 -10.5 L-6.5 -8 L-8.2 -1.5 L-6 3" stroke-width="1.3"/>
<path d="M8.5 1 L13.5 -6.3 L16.5 -6.3" stroke-width="1.3"/>
</g>
<g transform="translate(354 567.5)">
<path d="M-8.0 0 C-7.1 -3 -5.3 -5 -3.6 -5.2 L3.6 -5.2 C5.8 -5 7.6 -3 8.0 0 C7.6 3 5.8 5 3.6 5.2 L-3.6 5.2 C-5.3 5 -7.1 3 -8.0 0 Z" stroke-width="1.3"/>
<ellipse cx="-4.0" cy="0" rx="1.7" ry="4.8" stroke-width="1.1"/><ellipse cx="-1.3" cy="0" rx="1.7" ry="4.8" stroke-width="1.1"/><ellipse cx="1.3" cy="0" rx="1.7" ry="4.8" stroke-width="1.1"/><ellipse cx="4.0" cy="0" rx="1.7" ry="4.8" stroke-width="1.1"/>
<path d="M-10 -11.5 L-7.5 -12 L-6.8 -5 L-7.5 0" stroke-width="1.3"/>
<path d="M7.5 3.5 L9.5 3.5 L13 -4 L16 -4.5" stroke-width="1.3"/>
</g>
</g>
</g></svg></body></html>
